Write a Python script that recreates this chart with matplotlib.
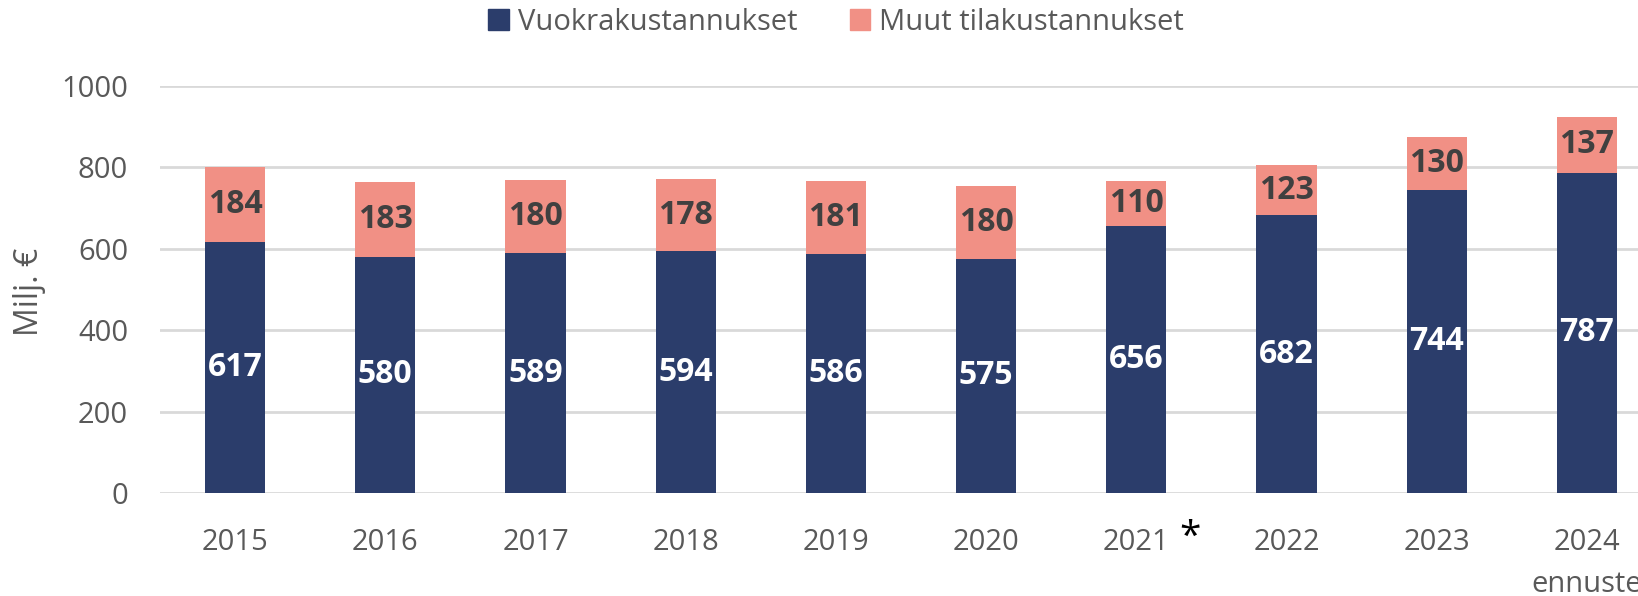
import matplotlib
matplotlib.use("Agg")
from matplotlib import pyplot as plt
from matplotlib.patches import Patch
import numpy as np

plt.rcParams['font.family'] = ['Open Sans', 'DejaVu Sans']

years = ['2015', '2016', '2017', '2018', '2019', '2020', '2021', '2022', '2023', '2024\nennuste']
vuokra = [617, 580, 589, 594, 586, 575, 656, 682, 744, 787]
muut = [184, 183, 180, 178, 181, 180, 110, 123, 130, 137]
yticks = [0, 200, 400, 600, 800, 1000]

navy = '#2B3D6B'
salmon = '#F19085'
gray_txt = '#595959'

W, H = 1638, 596
fig = plt.figure(figsize=(W / 100, H / 100), dpi=100)
# axes: x from 160px to 1662px (clipped on right), y 0 at 493px, 1000 at 86px
ax = fig.add_axes([160 / W, 1 - 493 / H, (1662 - 160) / W, (493 - 86) / H])

x = np.arange(len(years))
b1 = ax.bar(x, vuokra, width=0.4, color=navy, zorder=3)
b2 = ax.bar(x, muut, width=0.4, bottom=vuokra, color=salmon, zorder=3)

ax.bar_label(b1, labels=[str(v) for v in vuokra], label_type='center',
             color='white', fontsize=23, fontweight='bold')
ax.bar_label(b2, labels=[str(v) for v in muut], label_type='center',
             color='#404040', fontsize=23, fontweight='bold')

ax.set_xlim(-0.5, len(years) - 0.5)
ax.set_ylim(0, 1000)
ax.set_yticks(yticks)
ax.set_xticks(x)
ax.set_xticklabels(years, linespacing=1.6)
ax.tick_params(axis='both', length=0, labelsize=21, labelcolor=gray_txt)
ax.tick_params(axis='y', pad=23)
ax.tick_params(axis='x', pad=25)
ax.yaxis.grid(True, color='#D9D9D9', linewidth=2, zorder=0)
for s in ax.spines.values():
    s.set_visible(False)

# asterisk after 2021
ax.text(6.36, -0.11, '*', transform=ax.get_xaxis_transform(),
        ha='center', va='center', fontsize=28, color='black')

fig.text(30 / W, 1 - 292 / H, 'Milj. €', rotation=90, ha='center', va='center',
         fontsize=23, color=gray_txt)

handles = [Patch(color=navy, label='Vuokrakustannukset'),
           Patch(color=salmon, label='Muut tilakustannukset')]
fig.legend(handles=handles, loc='center', bbox_to_anchor=(836 / W, 1 - 22 / H),
           ncol=2, frameon=False, fontsize=21, labelcolor=gray_txt,
           handlelength=0.7, handleheight=0.7, handletextpad=0.3,
           columnspacing=1.8, borderpad=0)

fig.savefig('out.png', dpi=100)
